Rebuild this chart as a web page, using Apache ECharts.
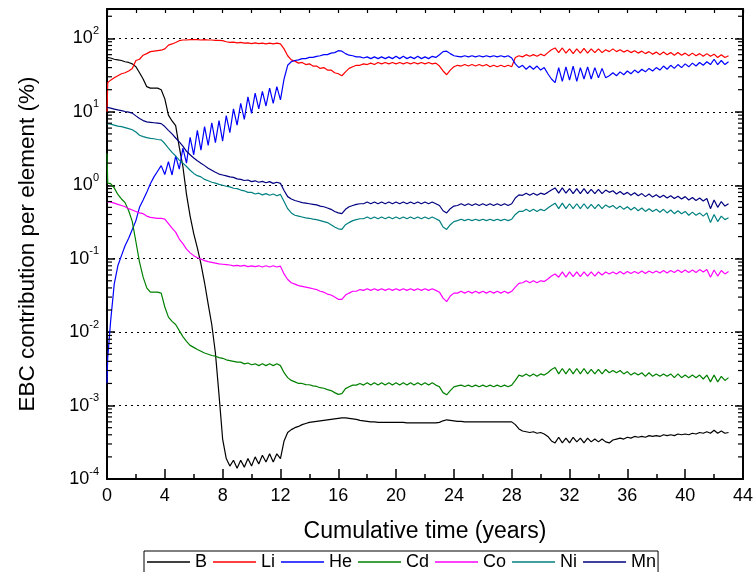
<!DOCTYPE html>
<html><head><meta charset="utf-8">
<script src="https://cdn.jsdelivr.net/npm/echarts@6/dist/echarts.min.js"></script>
<style>html,body{margin:0;padding:0;background:#fff}#c{width:756px;height:572px}</style>
</head><body><div id="c"></div>
<script>
const time = [0,0.05,
0.25,0.5,0.75,1,1.25,1.5,1.75,2,2.25,2.5,2.75,3,3.25,3.5,3.75,4,
4.25,4.5,4.75,5,5.25,5.5,5.75,6,6.25,6.5,6.75,7,7.25,7.5,7.75,8,
8.25,8.5,8.75,9,9.25,9.5,9.75,10,10.25,10.5,10.75,11,11.25,11.5,11.75,12,
12.25,12.5,12.75,13,13.25,13.5,13.75,14,14.25,14.5,14.75,15,15.25,15.5,15.75,16,
16.25,16.5,16.75,17,17.25,17.5,17.75,18,18.25,18.5,18.75,19,19.25,19.5,19.75,20,
20.25,20.5,20.75,21,21.25,21.5,21.75,22,22.25,22.5,22.75,23,23.25,23.5,23.75,24,
24.25,24.5,24.75,25,25.25,25.5,25.75,26,26.25,26.5,26.75,27,27.25,27.5,27.75,28,
28.25,28.5,28.75,29,29.25,29.5,29.75,30,30.25,30.5,30.75,31,31.25,31.5,31.75,32,
32.25,32.5,32.75,33,33.25,33.5,33.75,34,34.25,34.5,34.75,35,35.25,35.5,35.75,36,
36.25,36.5,36.75,37,37.25,37.5,37.75,38,38.25,38.5,38.75,39,39.25,39.5,39.75,40,
40.25,40.5,40.75,41,41.25,41.5,41.75,42,42.25,42.5,42.75,43];

const B = [55,55,
54,52,51,50, 48,47,45,41, 34,28,22,21, 21,21,20,15,
9,7.5,6.5,3.3, 1.8,0.75,0.38,0.22, 0.14,0.085,0.047,0.024, 0.0126,0.0052,0.0014,0.00035,
0.00019,0.00015,0.00018,0.00014, 0.00018,0.000145,0.00019,0.00015, 0.0002,0.00016,0.00021,0.00017, 0.00022,0.00017,0.00022,0.00019,
0.00033,0.00043,0.00047,0.0005, 0.00052,0.00055,0.00057,0.00059, 0.0006,0.00061,0.00062,0.00063, 0.00064,0.00065,0.00066,0.00067,
0.00068,0.00068,0.00067,0.00066, 0.00065,0.00063,0.00062,0.00061, 0.0006,0.0006,0.00059,0.00059, 0.00059,0.00059,0.00059,0.00059,
0.00059,0.00059,0.00058,0.00058, 0.00058,0.00058,0.00058,0.00058, 0.00058,0.00058,0.00058,0.00059, 0.00062,0.00064,0.00063,0.00062,
0.00061,0.00061,0.0006,0.0006, 0.0006,0.0006,0.0006,0.0006, 0.0006,0.0006,0.0006,0.0006, 0.0006,0.0006,0.0006,0.0006,
0.00055,0.00048,0.00045,0.00044, 0.00043,0.00044,0.00042,0.00043, 0.00041,0.00038,0.00033,0.00031, 0.00037,0.00031,0.00036,0.00031,
0.00037,0.00032,0.00036,0.00031, 0.00036,0.00032,0.00035,0.00032, 0.00035,0.00032,0.00031,0.00034, 0.00035,0.00036,0.00035,0.00037,
0.00036,0.00038,0.00037,0.00038, 0.00037,0.00039,0.00038,0.00039, 0.00038,0.0004,0.00039,0.0004, 0.00039,0.00041,0.0004,0.00041,
0.0004,0.00042,0.00041,0.00043, 0.00042,0.00044,0.00042,0.00046, 0.00042,0.00045,0.00042,0.00043];

const Li = [10,25,
27,29,31,33, 34,36,39,50, 52,59,62,66, 67,68,69,72,
81,84,88,93, 95,95,96,96, 96,95,96,95, 95,94,94,93,
90,88,89,87, 88,86,87,85, 87,85,86,84, 86,84,86,84,
72,58,51,49, 46,47,44,45, 42,42,39,40, 37,37,34,33,
31,35,39,41, 43,43,45,44, 46,44,47,45, 47,45,47,45,
47,45,47,45, 47,45,47,45, 47,45,46,42, 36,32,37,41,
43,42,44,42, 44,42,44,42, 44,41,43,41, 43,41,43,41,
55,58,56,60, 57,60,57,61, 58,64,70,74, 64,74,63,72,
62,72,63,73, 63,72,64,72, 64,70,66,72, 66,70,65,69,
64,68,63,67, 62,66,61,65, 60,65,60,64, 59,64,59,63,
58,63,58,62, 57,62,57,61, 55,60,55,58];

const He = [0.002,0.0045,
0.014,0.045,0.08,0.11, 0.15,0.19,0.25,0.33, 0.5,0.63,0.8,1.05, 1.3,1.55,1.85,1.4,
2.1,1.38,2.5,1.66, 3.2,2.0,4.5,2.6, 5.6,3.0,6.3,3.5, 7.1,3.8,7.6,4.0,
8.9,5.2,11,6.6, 13,7.9,16,9.5, 18,11,19,12, 21,13,22,14.5,
28,43,48,50, 51,53,53,55, 55,57,58,60, 60,63,64,68,
67,62,59,58, 56,56,54,56, 53,56,53,56, 53,56,53,57,
53,57,53,56, 53,57,53,56, 53,57,55,60, 66,67,62,58,
57,56,58,56, 58,56,58,56, 58,56,58,56, 58,56,58,54,
45,40,43,38, 42,38,42,37, 40,33,28,25, 40,26,41,27,
42,26,40,28, 41,28,40,29, 39,29,31,34, 31,35,32,36,
33,37,34,38, 35,39,36,40, 37,42,38,43, 39,44,40,45,
41,46,42,47, 43,48,44,52, 44,50,44,48];

const Cd = [2.7,1.07,
1.05,0.92,0.75,0.65, 0.58,0.45,0.32,0.17, 0.09,0.056,0.04,0.035, 0.035,0.035,0.034,0.022,
0.016,0.014,0.0127,0.0105, 0.0087,0.0075,0.0066,0.0062, 0.0058,0.0055,0.0052,0.005, 0.0048,0.0047,0.0045,0.0044,
0.0042,0.0041,0.004,0.0039, 0.0039,0.0037,0.0038,0.0036, 0.0037,0.0035,0.0037,0.0035, 0.0037,0.0035,0.0037,0.0035,
0.0028,0.0024,0.0022,0.0021, 0.002,0.002,0.00193,0.00192, 0.00185,0.00182,0.00175,0.00172, 0.00165,0.0016,0.0015,0.00142,
0.00145,0.0017,0.0018,0.0019, 0.0019,0.002,0.0019,0.00205, 0.0019,0.00205,0.0019,0.00205, 0.0019,0.00205,0.0019,0.00205,
0.0019,0.00205,0.0019,0.00205, 0.0019,0.00205,0.0019,0.00205, 0.0019,0.00205,0.0019,0.0018, 0.0015,0.0014,0.0016,0.0018,
0.00185,0.0019,0.00182,0.0019, 0.0018,0.0019,0.0018,0.0019, 0.0018,0.0019,0.0018,0.0019, 0.0018,0.0019,0.0018,0.0019,
0.0022,0.0026,0.0025,0.0027, 0.0025,0.0027,0.0025,0.0027, 0.0026,0.0028,0.0031,0.0033, 0.0027,0.0032,0.0027,0.0032,
0.0027,0.0032,0.0027,0.0032, 0.0027,0.0031,0.0027,0.0031, 0.0027,0.0031,0.0028,0.003, 0.0028,0.003,0.0027,0.0029,
0.0026,0.0028,0.0026,0.0028, 0.0025,0.0028,0.0025,0.0027, 0.0025,0.0027,0.0025,0.0027, 0.0024,0.0027,0.0024,0.0026,
0.0024,0.0026,0.0024,0.0026, 0.0023,0.0026,0.0021,0.0026, 0.0021,0.0025,0.0022,0.0024];

const Co = [0.6,0.6,
0.59,0.57,0.55,0.53, 0.51,0.48,0.46,0.44, 0.42,0.41,0.38,0.365, 0.36,0.355,0.355,0.345,
0.30,0.26,0.23,0.185, 0.16,0.135,0.12,0.11, 0.103,0.099,0.094,0.091, 0.089,0.087,0.085,0.084,
0.083,0.082,0.08,0.081, 0.079,0.081,0.078,0.08, 0.078,0.08,0.077,0.08, 0.077,0.08,0.077,0.079,
0.062,0.052,0.047,0.045, 0.043,0.042,0.041,0.04, 0.039,0.038,0.036,0.035, 0.033,0.032,0.03,0.028,
0.028,0.032,0.034,0.036, 0.036,0.038,0.037,0.039, 0.037,0.039,0.037,0.039, 0.037,0.039,0.037,0.039,
0.037,0.039,0.037,0.039, 0.037,0.039,0.037,0.039, 0.037,0.039,0.037,0.035, 0.029,0.026,0.031,0.034,
0.034,0.036,0.034,0.036, 0.034,0.036,0.034,0.036, 0.034,0.036,0.034,0.036, 0.034,0.036,0.034,0.036,
0.041,0.046,0.047,0.05, 0.047,0.05,0.047,0.05, 0.049,0.053,0.058,0.062, 0.056,0.066,0.056,0.066,
0.057,0.066,0.057,0.066, 0.058,0.066,0.058,0.066, 0.06,0.066,0.062,0.066, 0.062,0.067,0.062,0.067,
0.063,0.067,0.063,0.068, 0.063,0.068,0.064,0.068, 0.064,0.069,0.064,0.069, 0.065,0.07,0.065,0.07,
0.065,0.07,0.065,0.071, 0.066,0.071,0.056,0.07, 0.058,0.069,0.062,0.067];

const Ni = [6.9,6.9,
6.8,6.6,6.4,6.3, 6.1,5.9,5.7,5.3, 4.8,4.6,4.45,4.35, 4.3,4.2,4.15,3.7,
3.2,2.8,2.5,2.2, 2.0,1.8,1.6,1.45, 1.35,1.3,1.2,1.15, 1.1,1.07,1.03,1.0,
0.97,0.95,0.91,0.9, 0.86,0.84,0.8,0.8, 0.76,0.78,0.74,0.77, 0.73,0.76,0.72,0.75,
0.6,0.48,0.42,0.39, 0.38,0.37,0.36,0.355, 0.345,0.34,0.33,0.32, 0.31,0.29,0.27,0.255,
0.25,0.29,0.31,0.33, 0.34,0.35,0.35,0.37, 0.35,0.37,0.35,0.37, 0.35,0.37,0.35,0.37,
0.35,0.37,0.35,0.37, 0.35,0.37,0.35,0.37, 0.35,0.37,0.35,0.33, 0.27,0.25,0.29,0.32,
0.33,0.345,0.33,0.345, 0.33,0.345,0.33,0.345, 0.33,0.345,0.33,0.345, 0.33,0.345,0.33,0.345,
0.4,0.44,0.44,0.47, 0.44,0.47,0.44,0.47, 0.45,0.49,0.53,0.57, 0.48,0.57,0.48,0.56,
0.48,0.56,0.48,0.56, 0.48,0.55,0.48,0.55, 0.48,0.54,0.5,0.53, 0.48,0.52,0.47,0.51,
0.46,0.5,0.45,0.49, 0.44,0.48,0.44,0.47, 0.43,0.47,0.42,0.46, 0.41,0.45,0.41,0.44,
0.39,0.43,0.39,0.42, 0.38,0.42,0.31,0.40, 0.32,0.38,0.34,0.36];

const Mn = [11.5,11.5,
11.2,10.9,10.6,10.4, 10.1,9.9,9.6,8.8, 8.1,7.6,7.3,7.2, 7.1,7.0,6.9,6.3,
5.6,5.0,4.4,3.9, 3.4,2.9,2.6,2.35, 2.15,2.0,1.85,1.7, 1.6,1.5,1.42,1.38,
1.34,1.3,1.28,1.22, 1.2,1.16,1.18,1.12, 1.15,1.1,1.13,1.08, 1.12,1.06,1.1,1.06,
0.85,0.7,0.65,0.62, 0.6,0.58,0.57,0.56, 0.55,0.54,0.52,0.51, 0.49,0.47,0.44,0.42,
0.41,0.47,0.51,0.53, 0.55,0.56,0.56,0.59, 0.56,0.59,0.56,0.59, 0.56,0.59,0.56,0.59,
0.56,0.59,0.56,0.59, 0.56,0.59,0.56,0.59, 0.56,0.59,0.56,0.53, 0.45,0.42,0.48,0.52,
0.53,0.56,0.53,0.56, 0.53,0.56,0.53,0.56, 0.53,0.56,0.53,0.56, 0.53,0.56,0.53,0.56,
0.67,0.74,0.73,0.78, 0.73,0.78,0.73,0.78, 0.75,0.8,0.86,0.92, 0.78,0.92,0.78,0.9,
0.77,0.9,0.77,0.9, 0.77,0.88,0.77,0.88, 0.77,0.86,0.8,0.84, 0.76,0.82,0.75,0.8,
0.73,0.79,0.72,0.77, 0.7,0.76,0.69,0.74, 0.68,0.73,0.67,0.72, 0.66,0.71,0.65,0.7,
0.63,0.68,0.62,0.67, 0.61,0.66,0.48,0.63, 0.5,0.6,0.52,0.56];

const seriesNames = ['B','Li','He','Cd','Co','Ni','Mn'];
const seriesValues = [B, Li, He, Cd, Co, Ni, Mn];
const colors = ['#000000','#ff0000','#0000ff','#008000','#ff00ff','#008080','#000080'];
const xTickLabels = ['0','4','8','12','16','20','24','28','32','36','40','44'];

seriesValues.forEach((a,i)=>{ if(a.length!==time.length) console.error(seriesNames[i]+' length '+a.length+' vs '+time.length); });

const X_MIN = 0, X_MAX = 44, Y_MIN = 1e-4, Y_MAX = Math.pow(10, 2.4);

const minorVals = [];
for (let n = -4; n <= 2; n++) for (let k = 2; k <= 9; k++) { const v = k * Math.pow(10, n); if (v < Y_MAX) minorVals.push([0, v]); }

const FONT = 'Liberation Sans, Arial, Helvetica, sans-serif';

function yLabel(v){
  const lg = Math.log10(v); const n = Math.round(lg);
  if (Math.abs(lg - n) > 0.01) return '';
  return '{b|10}{s|' + n + '}';
}

const chart = echarts.init(document.getElementById('c'), null, {renderer:'canvas'});
const lineSeries = seriesNames.map((name,i)=>({
  name, type:'line', xAxisIndex:0, yAxisIndex:0,
  data: time.map((t,j)=>[t, seriesValues[i][j]]),
  showSymbol:false, symbol:'none', smooth:false, animation:false,
  lineStyle:{color:colors[i], width:1.2}, itemStyle:{color:colors[i]}, z:3+i
}));

chart.setOption({
  animation:false,
  textStyle:{fontFamily:FONT},
  grid:{left:107, top:9, width:640, height:470, containLabel:false},
  legend:{
    data: seriesNames, left:144, top:551, orient:'horizontal',
    icon:'rect', itemWidth:43, itemHeight:1.5, itemGap:6,
    padding:[2,2,12,3], borderColor:'#000', borderWidth:1, borderRadius:0,
    textStyle:{fontFamily:FONT, fontSize:18, color:'#000'}
  },
  xAxis:[{
    type:'value', min:X_MIN, max:X_MAX, interval:4, position:'bottom',
    name:'Cumulative time (years)', nameLocation:'middle', nameGap:41,
    nameTextStyle:{fontFamily:FONT, fontSize:23, color:'#000'},
    axisLine:{show:true, onZero:false, lineStyle:{color:'#000', width:2}},
    axisTick:{show:true, inside:true, length:10, lineStyle:{color:'#000', width:1.5}},
    minorTick:{show:true, splitNumber:2, length:5, lineStyle:{color:'#000', width:1.5}},
    axisLabel:{show:true, fontFamily:FONT, fontSize:18, color:'#000', margin:8,
      showMaxLabel:true, showMinLabel:true,
      formatter:(v)=>{ const s=String(Math.round(v)); return xTickLabels.indexOf(s)>=0?s:''; }},
    splitLine:{show:false}
  },{
    type:'value', min:X_MIN, max:X_MAX, interval:2, position:'top',
    axisLine:{show:true, onZero:false, lineStyle:{color:'#000', width:2}},
    axisTick:{show:true, inside:true, length:4, lineStyle:{color:'#000', width:1.2}},
    axisLabel:{show:false}, splitLine:{show:false}
  }],
  yAxis:[{
    type:'log', logBase:10, min:Y_MIN, max:Y_MAX, position:'left',
    name:'EBC contribution per element (%)', nameLocation:'middle', nameGap:68, nameRotate:90,
    nameTextStyle:{fontFamily:FONT, fontSize:22.5, color:'#000'},
    axisLine:{show:true, onZero:false, lineStyle:{color:'#000', width:2}},
    axisTick:{show:true, inside:true, length:8, lineStyle:{color:'#000', width:1.5}},
    axisLabel:{show:true, margin:8, formatter:yLabel, showMaxLabel:true,
      rich:{
        b:{fontFamily:FONT, fontSize:18, color:'#000', lineHeight:26},
        s:{fontFamily:FONT, fontSize:11, color:'#000', verticalAlign:'top', lineHeight:11}
      }},
    splitLine:{show:true, showMinLine:false, lineStyle:{color:'#000', width:1, type:[2,4]}}
  },{
    type:'log', logBase:10, min:Y_MIN, max:Y_MAX, position:'right',
    axisLine:{show:true, onZero:false, lineStyle:{color:'#000', width:2}},
    axisTick:{show:true, inside:true, length:8, lineStyle:{color:'#000', width:1.5}},
    axisLabel:{show:false}, splitLine:{show:false}
  }],
  series: lineSeries.concat([{
    type:'custom', name:'minorTicks', xAxisIndex:0, yAxisIndex:0, silent:true, clip:false,
    data: minorVals, z:10,
    renderItem:(params, api)=>{
      const v = api.value(1);
      const pL = api.coord([X_MIN, v]);
      const pR = api.coord([X_MAX, v]);
      return {type:'group', children:[
        {type:'line', shape:{x1:pL[0], y1:pL[1], x2:pL[0]+5, y2:pL[1]}, style:{stroke:'#000', lineWidth:1.2}},
        {type:'line', shape:{x1:pR[0]-5, y1:pR[1], x2:pR[0], y2:pR[1]}, style:{stroke:'#000', lineWidth:1.2}}
      ]};
    }
  }])
});
</script></body></html>
